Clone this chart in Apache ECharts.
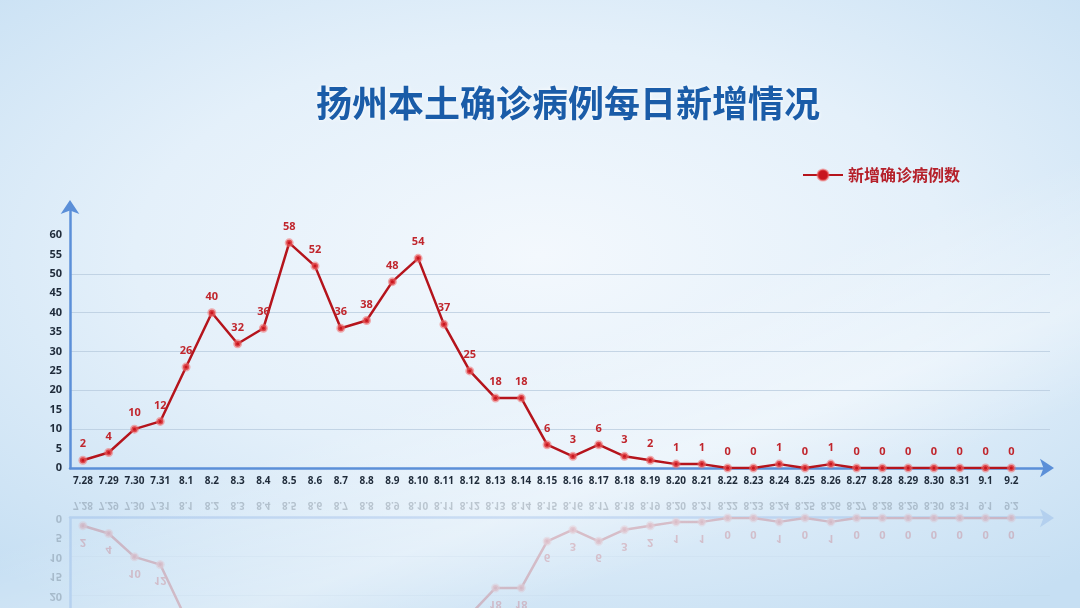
<!DOCTYPE html>
<html>
<head>
<meta charset="utf-8">
<script src="https://cdn.jsdelivr.net/npm/echarts@6/dist/echarts.min.js"></script>
<style>
  html, body { margin: 0; padding: 0; width: 1080px; height: 608px; overflow: hidden; }
  body {
    background:
      linear-gradient(160deg, rgba(255,255,255,0) 55%, rgba(255,255,255,0.35) 70%, rgba(255,255,255,0) 80%),
      radial-gradient(ellipse 75% 70% at 50% 42%, #f3f8fd 0%, #e4f0fa 50%, #c6dff3 100%);
  }
  #wrap { position: relative; width: 1080px; height: 608px; overflow: hidden; }
  #main, #refl { position: absolute; left: 0; top: 0; width: 1080px; height: 608px; }
  #refl { transform-origin: 50% 493px; transform: scaleY(-1); opacity: 0.22; }
</style>
</head>
<body>
<div id="wrap">
  <div id="refl"></div>
  <div id="main"></div>
</div>
<script>
const titleText = '扬州本土确诊病例每日新增情况';
const seriesName = '新增确诊病例数';
const dates = ['7.28','7.29','7.30','7.31','8.1','8.2','8.3','8.4','8.5','8.6','8.7','8.8','8.9','8.10','8.11','8.12','8.13','8.14','8.15','8.16','8.17','8.18','8.19','8.20','8.21','8.22','8.23','8.24','8.25','8.26','8.27','8.28','8.29','8.30','8.31','9.1','9.2'];
const newCases = [2,4,10,12,26,40,32,36,58,52,36,38,48,54,37,25,18,18,6,3,6,3,2,1,1,0,0,1,0,1,0,0,0,0,0,0,0];
const yTicks = [0,5,10,15,20,25,30,35,40,45,50,55,60];

const font = "'Open Sans', 'Noto Sans CJK SC', sans-serif";
const gridLineColors = yTicks.concat([65, 68]).map(v => (v % 10 === 0 && v > 0 && v < 60) ? 'rgba(180,200,220,0.7)' : 'rgba(0,0,0,0)');

function makeOption(reflect) {
  const opt = {
    animation: false,
    textStyle: { fontFamily: font },
    grid: { left: 70, right: 30, top: 204, bottom: 140, containLabel: false },
    xAxis: {
      type: 'category',
      data: dates.concat(['']),
      boundaryGap: true,
      axisLine: { show: true, lineStyle: { color: '#5b8fd8', width: 2.5 }, symbol: ['none', 'arrow'], symbolSize: [14, 14], symbolOffset: [0, 4] },
      axisTick: { show: false },
      axisLabel: { interval: 0, color: '#1f2b3a', fontSize: 10, fontWeight: 'bold', margin: 8, fontFamily: font },
      splitLine: { show: false }
    },
    yAxis: {
      type: 'value',
      min: 0, max: 68, interval: 5,
      axisLine: { show: true, lineStyle: { color: '#5b8fd8', width: 2.5 }, symbol: ['none', 'arrow'], symbolSize: [14, 14], symbolOffset: [0, 4] },
      axisTick: { show: false },
      axisLabel: {
        color: '#1f2b3a', fontSize: 11, fontWeight: 'bold', margin: 8, fontFamily: font,
        formatter: v => (yTicks.indexOf(v) >= 0 ? String(v) : '')
      },
      splitLine: { show: true, lineStyle: { color: gridLineColors, width: 1 } }
    },
    series: [{
      name: seriesName,
      type: 'line',
      data: newCases,
      symbol: 'circle',
      symbolSize: 6,
      lineStyle: { color: '#b5141c', width: 2.5 },
      itemStyle: { color: '#c8161f', borderColor: 'rgba(240,110,110,0.55)', borderWidth: 3 },
      label: { show: true, position: 'top', distance: 6, color: '#c0262d', fontSize: 11, fontWeight: 'bold', fontFamily: font },
      z: 5
    }]
  };
  if (!reflect) {
    opt.title = {
      text: titleText,
      left: 311, top: 80,
      textStyle: { color: '#1a5ca8', fontSize: 36, fontWeight: 'bold', fontFamily: "'Noto Sans CJK SC', sans-serif",
        textShadowColor: 'rgba(255,255,255,0.9)', textShadowBlur: 4 }
    };
    opt.legend = {
      left: 797, top: 162,
      itemWidth: 40, itemHeight: 14, itemGap: 11,
      textStyle: { color: '#b5202a', fontSize: 16, fontWeight: 'bold', fontFamily: "'Noto Sans CJK SC', sans-serif" },
      data: [seriesName]
    };
  }
  return opt;
}

const main = echarts.init(document.getElementById('main'), null, { renderer: 'canvas' });
main.setOption(makeOption(false));
const refl = echarts.init(document.getElementById('refl'), null, { renderer: 'canvas' });
refl.setOption(makeOption(true));
</script>
</body>
</html>
